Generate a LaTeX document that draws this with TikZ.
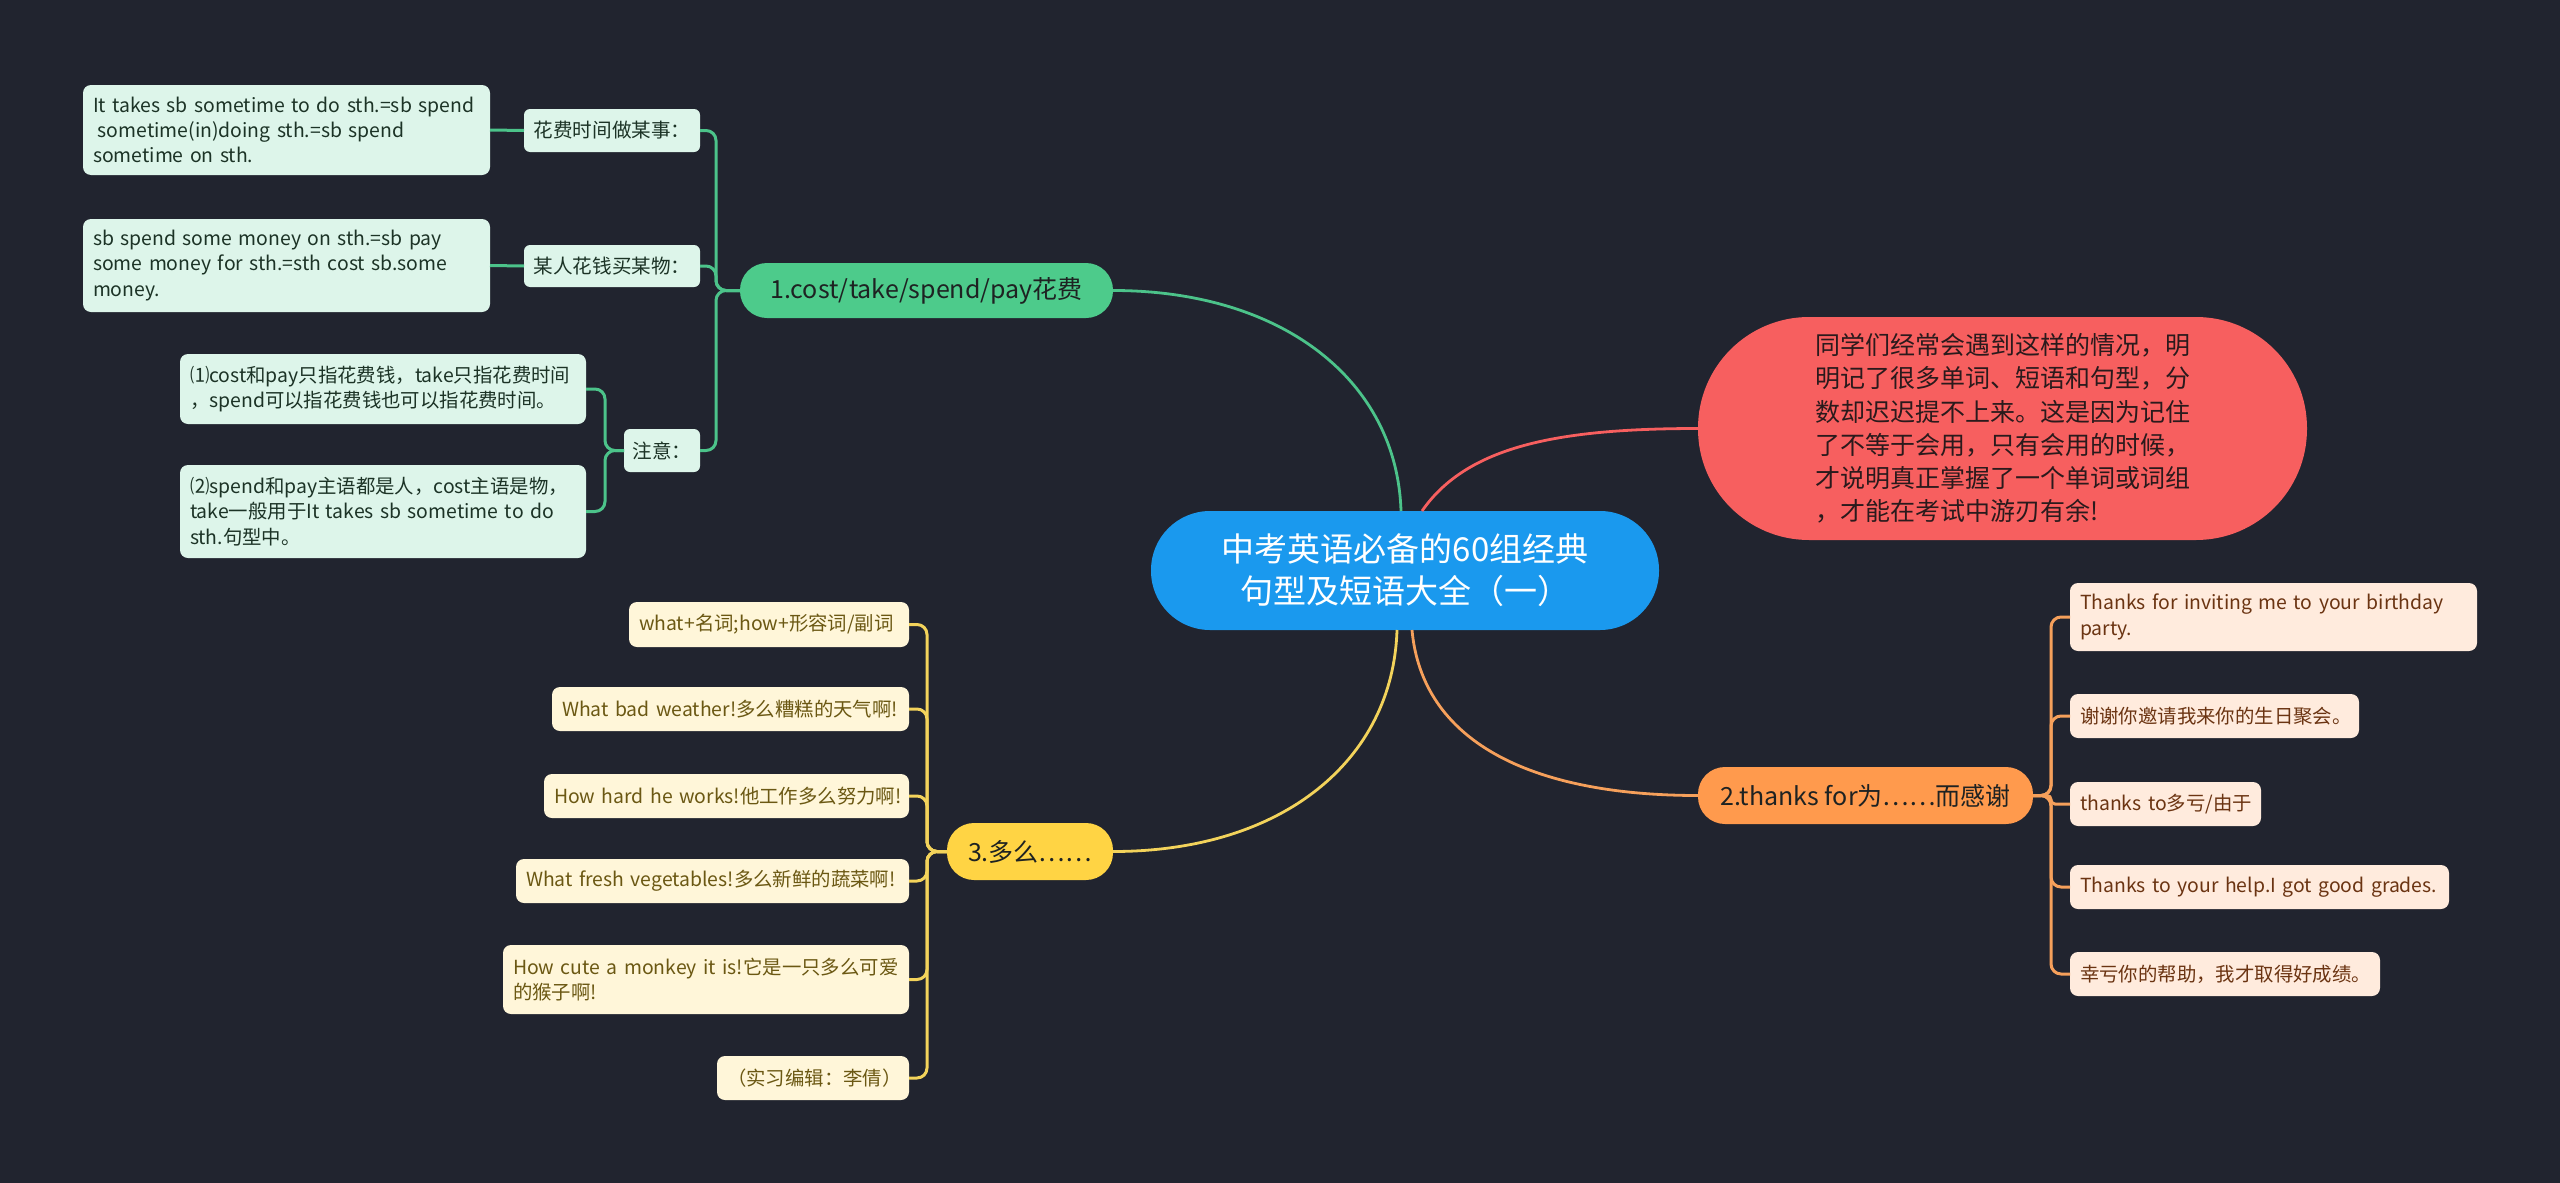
\documentclass[tikz,border=0pt]{standalone}
\usepackage{fontspec}
\setmainfont{Noto Sans CJK SC}
\usetikzlibrary{calc}
\newcommand\lbx[1]{\mbox{#1}}
\definecolor{bg}{HTML}{21242F}
\definecolor{rootc}{HTML}{1A99EE}
\definecolor{redc}{HTML}{F75F5F}
\definecolor{redtext}{HTML}{2A1A1C}
\definecolor{greenc}{HTML}{4DCB8B}
\definecolor{greenline}{HTML}{4CC38A}
\definecolor{greenleaf}{HTML}{DDF5EA}
\definecolor{greentext}{HTML}{1C3326}
\definecolor{yellowc}{HTML}{FFD444}
\definecolor{yellowline}{HTML}{F3D35B}
\definecolor{yellowleaf}{HTML}{FFF6D9}
\definecolor{yellowtext}{HTML}{6B5813}
\definecolor{orangec}{HTML}{FF9A4D}
\definecolor{orangeline}{HTML}{F6A05B}
\definecolor{orangeleaf}{HTML}{FFEBDD}
\definecolor{orangetext}{HTML}{6B3412}
\definecolor{maintext}{HTML}{1E2222}
\tikzset{
  base/.style={inner sep=0pt, outer sep=0pt, align=left},
  rootbox/.style={base, align=center, fill=rootc, text=white, rounded corners=29.5pt,
    font=\fontsize{16.5}{21}\selectfont},
  redbox/.style={base, fill=redc, text=redtext, rounded corners=55.5pt,
    font=\fontsize{12.5}{16.6}\selectfont},
  mainbox/.style={base, align=center, rounded corners=13.5pt, text=maintext,
    font=\fontsize{12.5}{15}\selectfont},
  subbox/.style={base, align=center, fill=greenleaf, text=greentext, rounded corners=3pt,
    font=\fontsize{9.8}{12.6}\selectfont},
  leafbase/.style={base, inner xsep=5pt, inner ysep=0pt, rounded corners=4pt,
    font=\fontsize{9.7}{12.6}\selectfont},
  gleaf/.style={leafbase, fill=greenleaf, text=greentext},
  yleaf/.style={leafbase, fill=yellowleaf, text=yellowtext},
  oleaf/.style={leafbase, fill=orangeleaf, text=orangetext},
  gcon/.style={draw=greenline, line width=1.5pt, rounded corners=5pt},
  ycon/.style={draw=yellowline, line width=1.5pt, rounded corners=5pt},
  ocon/.style={draw=orangeline, line width=1.5pt, rounded corners=5pt},
  rcon/.style={draw=redc, line width=1.4pt},
}
\begin{document}
\begin{tikzpicture}[x=0.5pt,y=-0.5pt]
\useasboundingbox (0,0) rectangle (2560,1183);
\fill[bg] (0,0) rectangle (2560,1183);

% root and main branches
\node[rootbox, minimum width=254pt, minimum height=59.5pt] (root) at (1405,570.5)
  {中考英语必备的60组经典\\句型及短语大全（一）};
\node[redbox, minimum width=304.5pt, minimum height=111.5pt] (r) at (2002.5,428.5)
  {同学们经常会遇到这样的情况，明\\明记了很多单词、短语和句型，分\\数却迟迟提不上来。这是因为记住\\了不等于会用，只有会用的时候，\\才说明真正掌握了一个单词或词组\\，才能在考试中游刃有余!};
\node[mainbox, fill=greenc, minimum width=186.5pt, minimum height=27.5pt] (g) at (926.5,290.5)
  {1.cost/take/spend/pay花费};
\node[mainbox, fill=orangec, minimum width=167.5pt, minimum height=28.5pt] (o) at (1865.5,795.5)
  {2.thanks for为……而感谢};
\node[mainbox, fill=yellowc, minimum width=83pt, minimum height=28.5pt] (yl) at (1030,851.5)
  {3.多么……};

% green sub nodes
\node[subbox, anchor=east, minimum width=88pt, minimum height=21.5pt] (gs1) at (700,130.5) {花费时间做某事：};
\node[subbox, anchor=east, minimum width=88pt, minimum height=21pt] (gs2) at (700,266) {某人花钱买某物：};
\node[subbox, anchor=east, minimum width=38pt, minimum height=21.5pt] (gs3) at (700,450.5) {注意：};

% green leaves
\node[gleaf, anchor=east, text width=193.5pt, minimum height=45pt] (gl1) at (490,130)
  {\lbx{It takes sb sometime to do sth.=sb spend}\\\lbx{\hspace*{0.25em}sometime(in)doing sth.=sb spend}\\\lbx{sometime on sth.}};
\node[gleaf, anchor=east, text width=193.5pt, minimum height=46.5pt] (gl2) at (490,265.5)
  {\lbx{sb spend some money on sth.=sb pay}\\\lbx{some money for sth.=sth cost sb.some}\\\lbx{money.}};
\node[gleaf, anchor=east, text width=193pt, minimum height=35pt] (gl3) at (586,389)
  {\lbx{⑴cost和pay只指花费钱，take只指花费时间}\\\lbx{，spend可以指花费钱也可以指花费时间。}};
\node[gleaf, anchor=east, text width=193pt, minimum height=46.5pt] (gl4) at (586,511.5)
  {\lbx{⑵spend和pay主语都是人，cost主语是物，}\\\lbx{take一般用于It takes sb sometime to do}\\\lbx{sth.句型中。}};

% yellow leaves
\node[yleaf, anchor=east, text width=130pt, minimum height=22.5pt] (y1) at (909,624.5) {\lbx{what+名词;how+形容词/副词}};
\node[yleaf, anchor=east, text width=168.5pt, minimum height=22pt] (y2) at (909,709) {\lbx{What bad weather!多么糟糕的天气啊!}};
\node[yleaf, anchor=east, text width=172.5pt, minimum height=22pt] (y3) at (909,796) {\lbx{How hard he works!他工作多么努力啊!}};
\node[yleaf, anchor=east, text width=186.5pt, minimum height=22pt] (y4) at (909,881) {\lbx{What fresh vegetables!多么新鲜的蔬菜啊!}};
\node[yleaf, anchor=east, text width=193pt, minimum height=34.5pt] (y5) at (909,979.5) {\lbx{How cute a monkey it is!它是一只多么可爱}\\\lbx{的猴子啊!}};
\node[yleaf, anchor=east, text width=86pt, minimum height=22pt] (y6) at (909,1078) {\lbx{（实习编辑：李倩）}};

% orange leaves
\node[oleaf, anchor=west, text width=193.5pt, minimum height=34pt] (o1) at (2070,617) {\lbx{Thanks for inviting me to your birthday}\\\lbx{party.}};
\node[oleaf, anchor=west, text width=134.5pt, minimum height=22pt] (o2) at (2070,716) {\lbx{谢谢你邀请我来你的生日聚会。}};
\node[oleaf, anchor=west, text width=85.5pt, minimum height=22pt] (o3) at (2070,804) {\lbx{thanks to多亏/由于}};
\node[oleaf, anchor=west, text width=179.5pt, minimum height=22pt] (o4) at (2070,887) {\lbx{Thanks to your help.I got good grades.}};
\node[oleaf, anchor=west, text width=145pt, minimum height=22pt] (o5) at (2070,974) {\lbx{幸亏你的帮助，我才取得好成绩。}};

% main connectors
\draw[draw=greenline, line width=1.4pt] ([xshift=-2pt]root.north) .. controls +(-4,-130) and +(170,0) .. (g.east);
\draw[rcon] ([xshift=8.5pt]root.north) .. controls +(45,-65) and +(-140,0) .. (r.west);
\draw[draw=yellowline, line width=1.4pt] ([xshift=-4pt]root.south) .. controls +(-4,130) and +(170,0) .. (yl.east);
\draw[draw=orangeline, line width=1.4pt] ([xshift=3.5pt]root.south) .. controls +(10,110) and +(-170,0) .. (o.west);

% green branch connectors
\foreach \c in {gs1,gs2,gs3}
  \draw[gcon] (g.west) -- ++(-24,0) |- (\c.east);
\draw[gcon] (gs1.west) -- (gl1.east);
\draw[gcon] (gs2.west) -- (gl2.east);
\foreach \c in {gl3,gl4}
  \draw[gcon] (gs3.west) -- ++(-19,0) |- (\c.east);

% yellow connectors
\foreach \c in {y1,y2,y3,y4,y5,y6}
  \draw[ycon] (yl.west) -- ++(-20,0) |- (\c.east);

% orange connectors
\foreach \c in {o1,o2,o4,o5}
  \draw[ocon] (o.east) -- ++(18,0) |- (\c.west);
\draw[ocon, rounded corners=2pt] (o.east) -- ++(18,0) |- (o3.west);
\end{tikzpicture}
\end{document}
